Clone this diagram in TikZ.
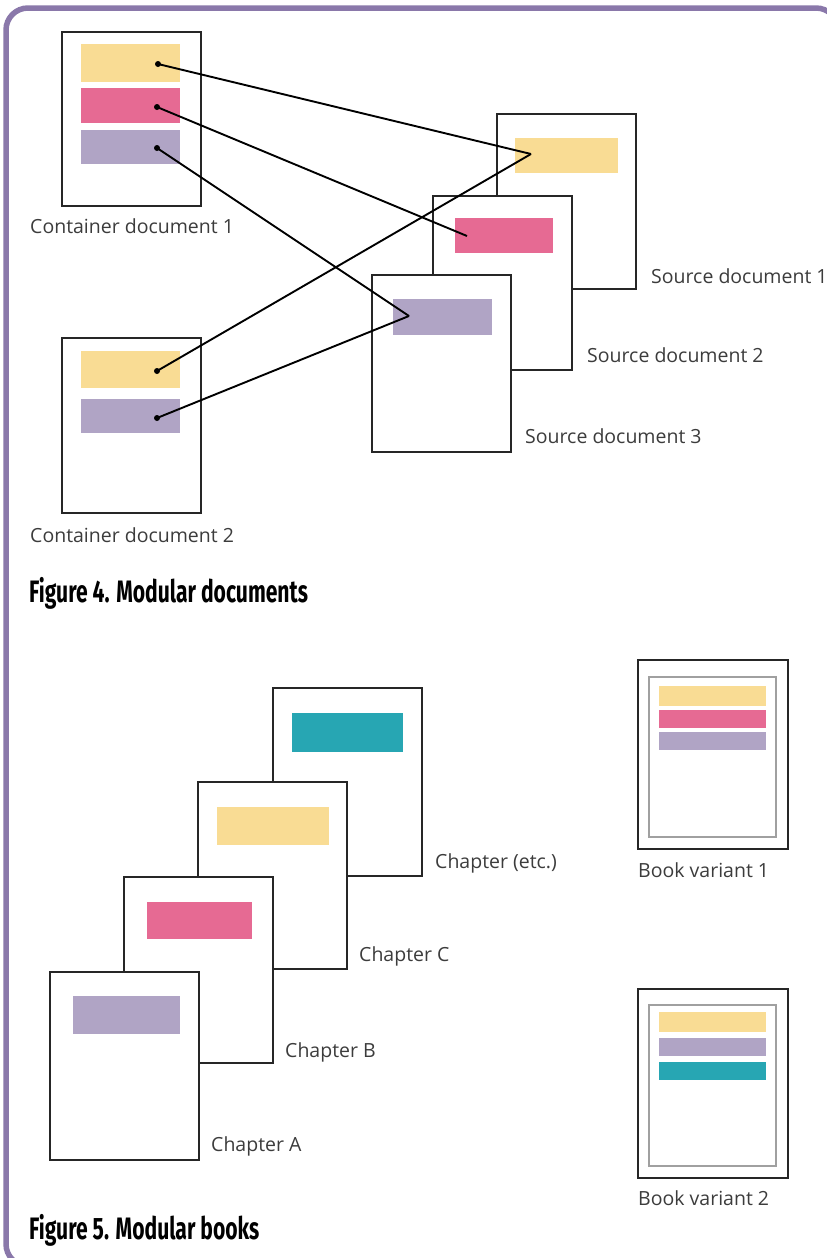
\documentclass[tikz,border=0pt]{standalone}
\usepackage{fontspec}
\setmainfont{Open Sans}
\newfontfamily\capfont{Fira Sans}
\definecolor{framecol}{HTML}{8A78AA}
\definecolor{cyel}{HTML}{F9DC94}
\definecolor{cpink}{HTML}{E66A93}
\definecolor{cviol}{HTML}{B0A4C5}
\definecolor{cteal}{HTML}{27A6B3}
\definecolor{edgecol}{HTML}{262626}
\definecolor{innercol}{HTML}{A0A0A0}
\definecolor{labelcol}{HTML}{3C3C3C}
\begin{document}
\begin{tikzpicture}[x=1pt,y=-1pt,
  pagebox/.style={draw=edgecol, line width=2.3pt, fill=white},
  innerbox/.style={draw=innercol, line width=1.8pt},
  lbl/.style={anchor=base west, inner sep=0pt, text=labelcol, font=\fontsize{19.5}{19.5}\selectfont},
  caption/.style={anchor=base west, inner sep=0pt, text=black, font=\capfont\bfseries\fontsize{31}{31}\selectfont},
  conn/.style={line width=1.9pt, black},
  dotnode/.style={circle, fill=black, inner sep=0pt, minimum size=6pt}]
\useasboundingbox (0,0) rectangle (827,1258);
\fill[white] (0,0) rectangle (827,1258);
\draw[framecol, line width=5.5pt, rounded corners=22pt] (6,8) rectangle (838,1266);

% ---------- Figure 4 ----------
% container document 1
\draw[pagebox] (62,32) rectangle (201,206);
\fill[cyel] (81,44) rectangle (180,82);
\fill[cpink] (81,88) rectangle (180,123);
\fill[cviol] (81,130) rectangle (180,164);
\node[lbl] (lc1) at (30,233) {Container document 1};
% container document 2
\draw[pagebox] (62,338) rectangle (201,513);
\fill[cyel] (81,351) rectangle (180,388);
\fill[cviol] (81,399) rectangle (180,433);
\node[lbl] (lc2) at (30,542) {Container document 2};
% source documents
\draw[pagebox] (497,114) rectangle (636,289);
\fill[cyel] (515,138) rectangle (618,173);
\draw[pagebox] (433,196) rectangle (572,370);
\fill[cpink] (455,218) rectangle (553,253);
\draw[pagebox] (372,275) rectangle (511,452);
\fill[cviol] (393,299) rectangle (492,335);
\node[lbl] (ls1) at (651,283) {Source document 1};
\node[lbl] (ls2) at (587,362) {Source document 2};
\node[lbl] (ls3) at (525,443) {Source document 3};
% connectors
\node[dotnode] (d1y) at (158,64) {};
\node[dotnode] (d1p) at (157,107) {};
\node[dotnode] (d1v) at (157,148) {};
\node[dotnode] (d2y) at (157,371) {};
\node[dotnode] (d2v) at (157,418) {};
\coordinate (s1y) at (531,154);
\coordinate (s2p) at (467,236);
\coordinate (s3v) at (409,316);
\draw[conn] (d1y.center) -- (s1y);
\draw[conn] (d1p.center) -- (s2p);
\draw[conn] (d1v.center) -- (s3v);
\draw[conn] (d2y.center) -- (s1y);
\draw[conn] (d2v.center) -- (s3v);
\node[caption] (cap4) at (29,602) {\scalebox{0.68}[1]{Figure 4. Modular documents}};

% ---------- Figure 5 ----------
\draw[pagebox] (273,688) rectangle (422,876);
\fill[cteal] (292,713) rectangle (403,752);
\draw[pagebox] (198,782) rectangle (347,969);
\fill[cyel] (217,807) rectangle (329,845);
\draw[pagebox] (124,877) rectangle (273,1063);
\fill[cpink] (147,902) rectangle (252,939);
\draw[pagebox] (50,972) rectangle (199,1160);
\fill[cviol] (73,996) rectangle (180,1034);
\node[lbl] (lce) at (435,868) {Chapter (etc.)};
\node[lbl] (lcc) at (359,961) {Chapter C};
\node[lbl] (lcb) at (285,1057) {Chapter B};
\node[lbl] (lca) at (211,1151) {Chapter A};
% book variants
\draw[pagebox] (638,660) rectangle (788,849);
\draw[innerbox] (649,677) rectangle (776,837);
\fill[cyel] (659,686) rectangle (766,706);
\fill[cpink] (659,710) rectangle (766,728);
\fill[cviol] (659,732) rectangle (766,750);
\node[lbl] (lb1) at (638,877) {Book variant 1};
\draw[pagebox] (638,989) rectangle (788,1178);
\draw[innerbox] (649,1005) rectangle (776,1166);
\fill[cyel] (659,1012) rectangle (766,1032);
\fill[cviol] (659,1038) rectangle (766,1056);
\fill[cteal] (659,1062) rectangle (766,1080);
\node[lbl] (lb2) at (638,1205) {Book variant 2};
\node[caption] (cap5) at (29,1239) {\scalebox{0.68}[1]{Figure 5. Modular books}};
\end{tikzpicture}
\end{document}
